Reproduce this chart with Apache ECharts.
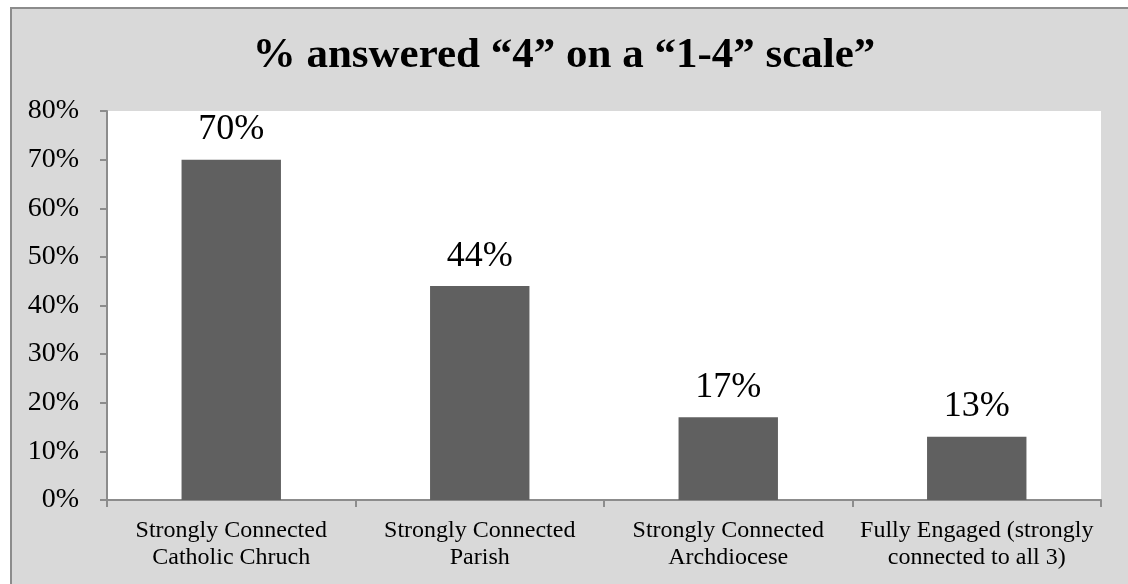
<!DOCTYPE html>
<html>
<head>
<meta charset="utf-8">
<script src="https://cdn.jsdelivr.net/npm/echarts@6/dist/echarts.min.js"></script>
<style>
  html, body { margin: 0; padding: 0; background: #fff; }
  #chart { width: 1128px; height: 584px; }
</style>
</head>
<body>
<div id="chart"></div>
<script>
// values
const titleText = '% answered \u201c4\u201d on a \u201c1-4\u201d scale\u201d';
const categories = [
  'Strongly Connected\nCatholic Chruch',
  'Strongly Connected\nParish',
  'Strongly Connected\nArchdiocese',
  'Fully Engaged (strongly\nconnected to all 3)'
];
const values = [70, 44, 17, 13];
const yMax = 80;
const yStep = 10;

const serif = '"Liberation Serif", "DejaVu Serif", serif';

const chart = echarts.init(document.getElementById('chart'));

const option = {
  backgroundColor: '#fff',
  animation: false,
  graphic: [{
    type: 'rect',
    z: -10,
    shape: { x: 11, y: 8, width: 1140, height: 600 },
    style: { fill: '#d9d9d9', stroke: '#8c8c8c', lineWidth: 2 }
  }],
  title: {
    text: titleText,
    left: 'center',
    top: 29,
    textStyle: { fontFamily: serif, fontSize: 43, fontWeight: 'bold', color: '#000' }
  },
  grid: {
    left: 107,
    top: 111,
    right: 27,
    bottom: 84,
    show: true,
    backgroundColor: '#fff',
    borderWidth: 0
  },
  xAxis: {
    type: 'category',
    data: categories,
    boundaryGap: true,
    axisLine: { lineStyle: { color: '#8c8c8c', width: 2 } },
    axisTick: { show: true, length: 7, alignWithLabel: false, lineStyle: { color: '#8c8c8c', width: 2 } },
    axisLabel: {
      fontFamily: serif,
      fontSize: 24,
      lineHeight: 27,
      color: '#000',
      margin: 17,
      interval: 0
    }
  },
  yAxis: {
    type: 'value',
    min: 0,
    max: yMax,
    interval: yStep,
    splitLine: { show: false },
    axisLine: { show: true, lineStyle: { color: '#8c8c8c', width: 2 } },
    axisTick: { show: true, length: 7, lineStyle: { color: '#8c8c8c', width: 2 } },
    axisLabel: {
      fontFamily: serif,
      fontSize: 28,
      color: '#000',
      margin: 28,
      formatter: '{value}%'
    }
  },
  series: [{
    type: 'bar',
    data: values,
    barWidth: '40%',
    itemStyle: { color: '#606060' },
    label: {
      show: true,
      position: 'top',
      distance: 12,
      fontFamily: serif,
      fontSize: 36,
      color: '#000',
      formatter: '{c}%'
    }
  }]
};

chart.setOption(option);
</script>
</body>
</html>
